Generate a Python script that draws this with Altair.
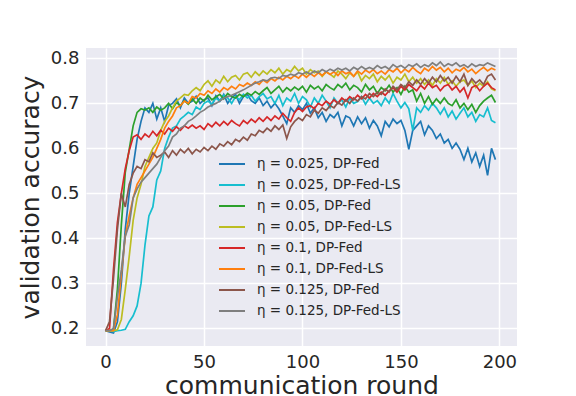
import altair as alt
import pandas as pd

rounds = list(range(0, 200, 2))

labels = [
    "η = 0.025, DP-Fed",
    "η = 0.025, DP-Fed-LS",
    "η = 0.05, DP-Fed",
    "η = 0.05, DP-Fed-LS",
    "η = 0.1, DP-Fed",
    "η = 0.1, DP-Fed-LS",
    "η = 0.125, DP-Fed",
    "η = 0.125, DP-Fed-LS",
]
colors = ["#1f77b4", "#17becf", "#2ca02c", "#bcbd22",
          "#d62728", "#ff7f0e", "#8c564b", "#7f7f7f"]

fed_025 = [.195, .192, .190, .215, .300, .420, .500, .560, .620, .660,
           .690, .680, .700, .665, .690, .660, .695, .700, .710, .690,
           .712, .700, .705, .716, .700, .708, .712, .695, .717, .705,
           .720, .700, .712, .720, .700, .715, .720, .706, .700, .712,
           .695, .705, .690, .700, .688, .672, .655, .690, .680, .695,
           .686, .700, .678, .690, .668, .680, .660, .675, .668, .680,
           .650, .672, .668, .650, .670, .655, .668, .645, .662, .650,
           .628, .660, .648, .665, .655, .662, .640, .598, .640, .650,
           .660, .630, .650, .640, .622, .632, .612, .620, .600, .612,
           .598, .575, .600, .570, .590, .560, .585, .540, .600, .575]
ls_025 = [.195, .195, .193, .195, .196, .198, .215, .228, .250, .300,
          .385, .450, .470, .530, .550, .600, .625, .645, .650, .665,
          .672, .680, .675, .692, .686, .700, .705, .698, .712, .705,
          .718, .712, .700, .715, .708, .720, .712, .718, .705, .715,
          .722, .710, .715, .700, .718, .695, .712, .705, .722, .700,
          .715, .708, .692, .712, .700, .718, .705, .690, .712, .700,
          .708, .692, .712, .700, .704, .715, .698, .712, .700, .706,
          .695, .712, .700, .722, .705, .690, .702, .688, .640, .690,
          .680, .695, .685, .700, .690, .676, .690, .670, .683, .665,
          .678, .690, .670, .680, .660, .675, .670, .690, .662, .657]
fed_05 = [.195, .195, .197, .287, .430, .547, .598, .650, .680, .688,
          .685, .690, .680, .692, .685, .690, .700, .688, .702, .695,
          .706, .698, .710, .700, .712, .705, .718, .708, .714, .720,
          .710, .722, .715, .712, .720, .715, .723, .718, .726, .720,
          .728, .735, .722, .730, .738, .725, .735, .728, .736, .730,
          .738, .725, .740, .732, .738, .728, .742, .735, .730, .742,
          .735, .745, .730, .740, .735, .725, .742, .730, .738, .722,
          .735, .728, .740, .725, .735, .720, .738, .725, .730, .705,
          .722, .700, .715, .698, .710, .700, .712, .700, .695, .708,
          .690, .700, .686, .698, .680, .695, .705, .712, .718, .702]
ls_05 = [.195, .195, .195, .197, .220, .287, .360, .440, .490, .520,
         .560, .580, .600, .612, .640, .660, .672, .690, .705, .712,
         .720, .718, .728, .735, .728, .742, .750, .738, .752, .745,
         .760, .748, .758, .762, .752, .765, .768, .758, .770, .762,
         .772, .765, .775, .768, .778, .765, .775, .770, .782, .772,
         .778, .765, .775, .768, .772, .760, .770, .765, .758, .772,
         .765, .755, .768, .760, .770, .750, .762, .755, .765, .748,
         .760, .752, .762, .745, .758, .752, .765, .748, .758, .745,
         .755, .742, .752, .740, .755, .745, .758, .742, .750, .738,
         .748, .752, .740, .750, .735, .745, .738, .748, .732, .728]
fed_1 = [.195, .200, .330, .435, .500, .555, .595, .625, .630, .620,
         .632, .625, .638, .628, .640, .632, .645, .638, .648, .640,
         .650, .645, .652, .645, .650, .642, .655, .648, .658, .650,
         .660, .652, .662, .655, .650, .662, .655, .665, .658, .668,
         .660, .670, .662, .672, .665, .678, .668, .660, .680, .690,
         .682, .692, .695, .688, .700, .695, .705, .698, .708, .700,
         .712, .705, .715, .708, .718, .710, .720, .712, .722, .715,
         .725, .718, .728, .735, .725, .738, .730, .742, .735, .728,
         .740, .732, .745, .735, .740, .728, .738, .742, .730, .738,
         .725, .735, .712, .735, .740, .728, .738, .745, .735, .730]
ls_1 = [.195, .195, .195, .230, .320, .405, .450, .490, .520, .535,
        .550, .565, .580, .600, .620, .645, .660, .672, .690, .695,
        .705, .700, .715, .712, .722, .718, .728, .722, .732, .725,
        .735, .730, .738, .732, .742, .738, .745, .740, .748, .742,
        .752, .746, .755, .750, .758, .752, .760, .755, .762, .756,
        .765, .758, .766, .760, .768, .762, .770, .764, .770, .762,
        .772, .766, .770, .760, .772, .765, .774, .768, .775, .766,
        .772, .765, .775, .770, .778, .768, .776, .770, .780, .772,
        .766, .778, .772, .782, .774, .780, .770, .778, .768, .776,
        .772, .780, .770, .776, .766, .774, .780, .772, .778, .774]
fed_125 = [.195, .215, .310, .420, .500, .470, .520, .545, .560, .555,
           .575, .570, .590, .580, .585, .592, .580, .595, .585, .598,
           .590, .600, .588, .598, .592, .602, .595, .605, .598, .610,
           .605, .615, .608, .620, .615, .625, .618, .632, .628, .640,
           .635, .645, .638, .650, .642, .652, .622, .648, .660, .668,
           .662, .675, .670, .685, .678, .690, .684, .695, .690, .702,
           .696, .708, .700, .712, .705, .715, .710, .722, .715, .725,
           .720, .732, .725, .738, .730, .742, .735, .748, .740, .752,
           .742, .755, .745, .758, .748, .762, .750, .758, .745, .760,
           .748, .765, .740, .755, .745, .752, .742, .760, .765, .752]
ls_125 = [.195, .195, .200, .270, .330, .405, .430, .490, .510, .525,
          .535, .545, .555, .565, .580, .595, .605, .625, .632, .645,
          .650, .660, .665, .672, .680, .685, .692, .696, .700, .705,
          .712, .715, .718, .722, .726, .730, .735, .740, .745, .748,
          .752, .750, .756, .758, .755, .762, .760, .765, .762, .768,
          .765, .770, .765, .772, .768, .775, .770, .776, .772, .778,
          .774, .778, .772, .780, .775, .782, .776, .780, .776, .784,
          .778, .782, .776, .786, .780, .784, .778, .786, .782, .788,
          .780, .786, .782, .790, .784, .792, .782, .788, .784, .790,
          .782, .786, .780, .788, .782, .786, .784, .790, .786, .782]

series = [fed_025, ls_025, fed_05, ls_05, fed_1, ls_1, fed_125, ls_125]

rows = []
for lab, vals in zip(labels, series):
    for r, v in zip(rounds, vals):
        rows.append({"round": r, "acc": v, "run": lab})
df = pd.DataFrame(rows)

font = "DejaVu Sans"
ink = "#262626"

chart = alt.Chart(df).mark_line(strokeWidth=1.7, clip=True).encode(
    x=alt.X("round:Q",
            scale=alt.Scale(domain=[-9.95, 208.95], nice=False, zero=False),
            axis=alt.Axis(values=[0, 50, 100, 150, 200], title="communication round",
                          labelPadding=7, titlePadding=2)),
    y=alt.Y("acc:Q",
            scale=alt.Scale(domain=[0.161, 0.823], nice=False, zero=False),
            axis=alt.Axis(values=[0.2, 0.3, 0.4, 0.5, 0.6, 0.7, 0.8], format=".1f",
                          title="validation accuracy", labelPadding=7, titlePadding=7)),
    color=alt.Color("run:N",
                    scale=alt.Scale(domain=labels, range=colors),
                    legend=alt.Legend(title=None, orient="none", legendX=132, legendY=102,
                                      symbolType="stroke", symbolSize=676,
                                      symbolStrokeWidth=2, labelFontSize=13.5,
                                      labelFont=font, labelColor=ink, labelOffset=11,
                                      rowPadding=-2.7, padding=0)),
    detail="run:N",
).properties(
    width=431,
    height=298,
    padding={"left": 78, "top": 40, "right": 40, "bottom": 50},
    autosize=alt.AutoSizeParams(type="none"),
).configure_view(
    fill="#EAEAF2", stroke=None
).configure_axis(
    domain=False, ticks=False, grid=True, gridColor="white", gridWidth=1.5,
    labelFont=font, labelFontSize=18, labelColor=ink,
    titleFont=font, titleFontSize=25, titleColor=ink, titleFontWeight="normal",
)

chart.save("out.html", embed_options={"renderer": "svg", "actions": False})
